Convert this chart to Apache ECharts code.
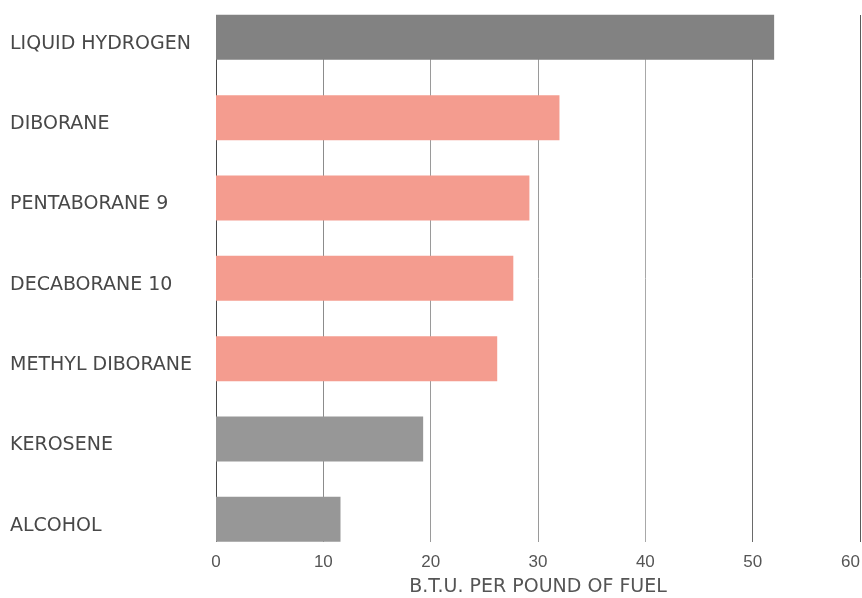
<!DOCTYPE html>
<html>
<head>
<meta charset="utf-8">
<title>Heat of combustion of rocket fuels</title>
<script src="https://cdn.jsdelivr.net/npm/echarts@6/dist/echarts.min.js"></script>
<style>
  html, body { margin: 0; padding: 0; background: #ffffff; }
  #chart { width: 862px; height: 598px; }
</style>
</head>
<body>
<div id="chart"></div>
<script>
// Fuels, top to bottom
const fuels = [
  'LIQUID HYDROGEN',
  'DIBORANE',
  'PENTABORANE 9',
  'DECABORANE 10',
  'METHYL DIBORANE',
  'KEROSENE',
  'ALCOHOL'
];
// Heat released per pound of fuel (thousands of B.T.U.)
const btuPerPound = [52, 32, 29.2, 27.7, 26.2, 19.3, 11.6];
// Value axis
const axisMin = 0;
const axisMax = 60;
const axisStep = 10;
const axisTitle = 'B.T.U. PER POUND OF FUEL';

// Boron fuels are shown in salmon, the rest in grey
const barColours = {
  'LIQUID HYDROGEN': '#828282',
  'DIBORANE': '#f49c8f',
  'PENTABORANE 9': '#f49c8f',
  'DECABORANE 10': '#f49c8f',
  'METHYL DIBORANE': '#f49c8f',
  'KEROSENE': '#979797',
  'ALCOHOL': '#979797'
};

const textFont = '"DejaVu Sans", "Liberation Sans", sans-serif';
const tickFont = '"Liberation Sans", "DejaVu Sans", sans-serif';

const chart = echarts.init(document.getElementById('chart'), null, { renderer: 'canvas' });

chart.setOption({
  animation: false,
  backgroundColor: '#ffffff',
  grid: [
    // bars
    { left: 216, right: 2, top: -2.8, height: 562.3, containLabel: false, outerBoundsMode: 'none' },
    // grid lines and value labels
    { left: 216, right: 2, top: 15, height: 527, containLabel: false, outerBoundsMode: 'none' }
  ],
  xAxis: [
    { gridIndex: 0, type: 'value', min: axisMin, max: axisMax, interval: axisStep, show: false },
    {
      gridIndex: 1, type: 'value', min: axisMin, max: axisMax, interval: axisStep,
      axisLine: { show: false },
      axisTick: { show: false },
      splitLine: {
        show: true,
        lineStyle: { color: ['#4a4a4a', '#8c8c8c', '#9a9a9a', '#9a9a9a', '#a8a8a8', '#6a6a6a', '#5a5a5a'], width: 1 }
      },
      axisLabel: {
        margin: 12,
        fontSize: 17,
        color: '#555555',
        fontFamily: tickFont,
        alignMaxLabel: 'right'
      },
      name: axisTitle,
      nameLocation: 'middle',
      nameGap: 36,
      nameTextStyle: { fontSize: 19, color: '#555555', fontFamily: textFont }
    }
  ],
  yAxis: [
    {
      gridIndex: 0, type: 'category', data: fuels, inverse: true,
      axisLine: { show: false },
      axisTick: { show: false },
      splitLine: { show: false },
      axisLabel: {
        align: 'left',
        verticalAlign: 'top',
        lineHeight: 13,
        margin: 206,
        fontSize: 19,
        color: '#484848',
        fontFamily: textFont
      }
    },
    { gridIndex: 1, type: 'value', show: false }
  ],
  series: [
    {
      type: 'bar',
      xAxisIndex: 0,
      yAxisIndex: 0,
      barWidth: 45,
      data: btuPerPound.map((v, i) => ({
        value: v,
        itemStyle: { color: barColours[fuels[i]] }
      })),
      z: 5
    }
  ]
});
</script>
</body>
</html>
